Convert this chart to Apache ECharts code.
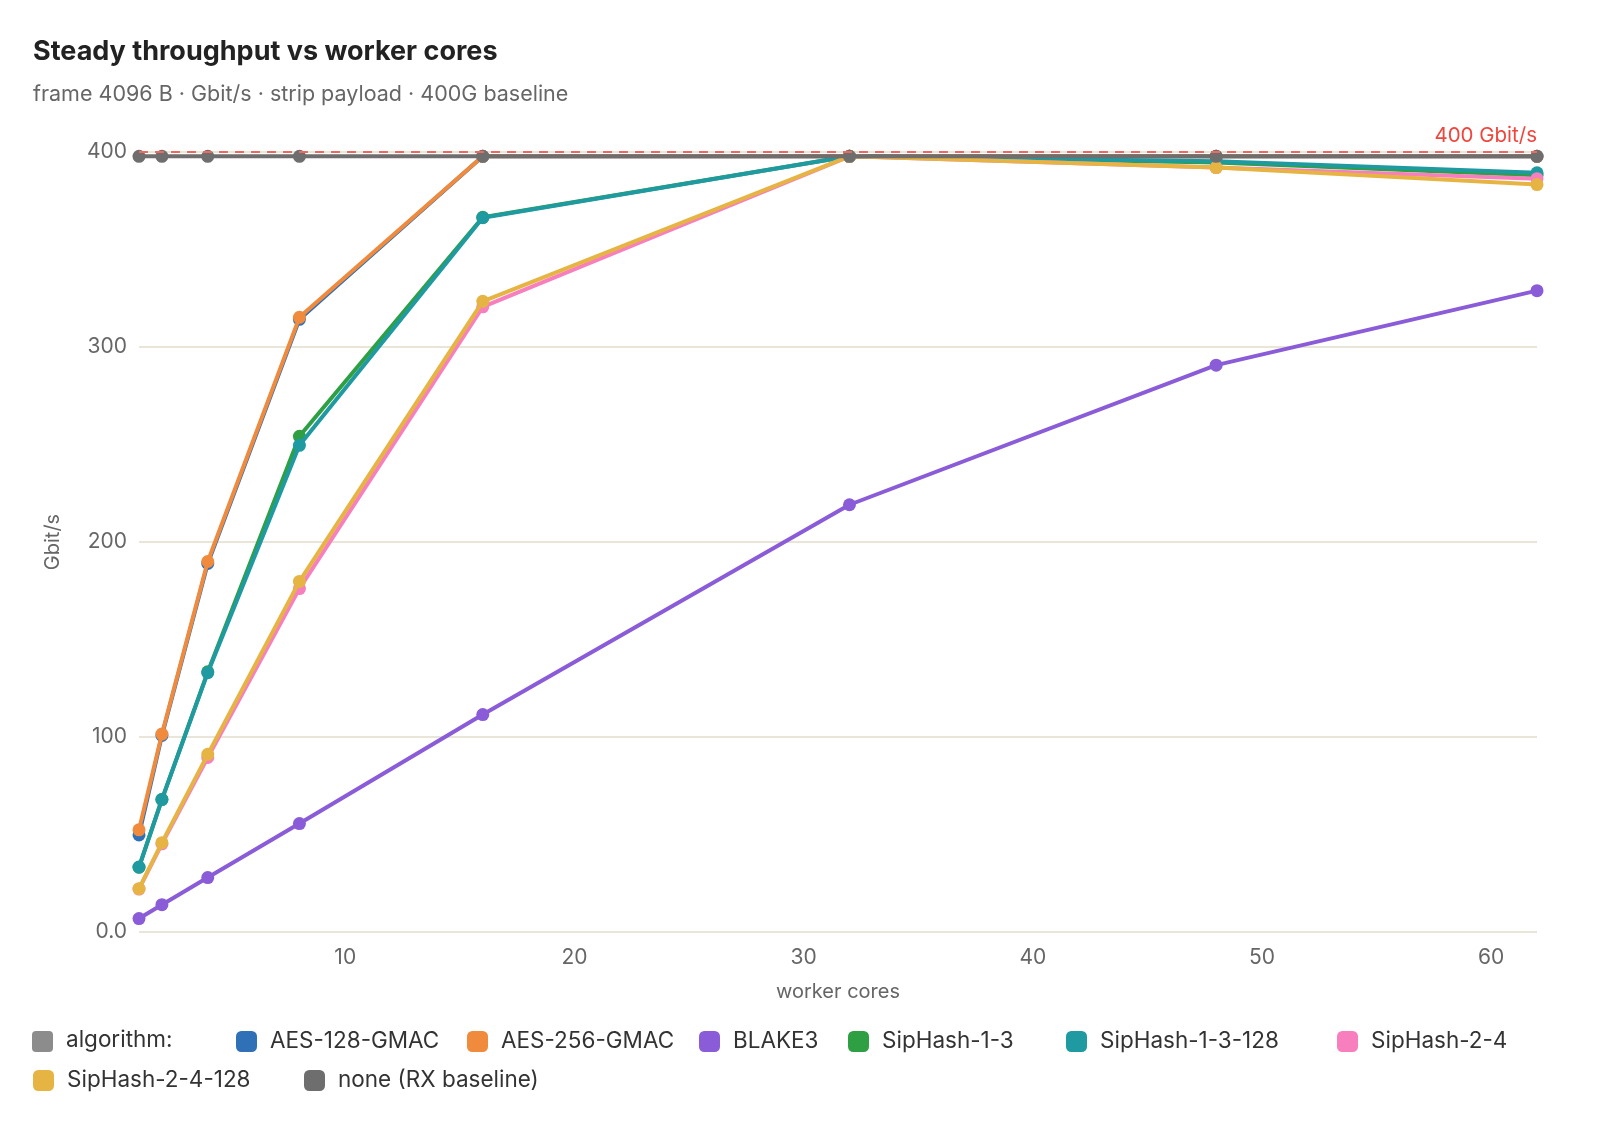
<!DOCTYPE html>
<html>
<head>
<meta charset="utf-8">
<script src="https://cdn.jsdelivr.net/npm/echarts@6/dist/echarts.min.js"></script>
<style>
  html, body { margin: 0; padding: 0; background: #fff; }
  #chart { width: 1598px; height: 1140px; }
</style>
</head>
<body>
<div id="chart"></div>
<script>
// worker cores on the x axis
const cores = [1, 2, 4, 8, 16, 32, 48, 62];
const xTicks = [10, 20, 30, 40, 50, 60];

// Gbit/s per algorithm
const aes128 = [49.8, 100.8, 189, 314.2, 397.8, 397.8, 397.8, 397.8];
const aes256 = [52.4, 101.5, 190, 315.2, 397.8, 397.8, 397.8, 397.8];
const blake3 = [6.9, 14.0, 27.9, 55.6, 111.5, 219.1, 290.7, 328.9];
const sip13 = [33.2, 68, 133.4, 254.2, 366.5, 397.8, 394.6, 388.1];
const sip13x128 = [33.3, 67.9, 133, 249.6, 366.3, 397.8, 395.3, 389.3];
const sip24 = [22, 45.2, 89.5, 176.1, 320.6, 397.8, 392, 386.3];
const sip24x128 = [22.2, 45.8, 91.1, 179.8, 323.4, 397.8, 392, 383.3];
const baseline = [397.8, 397.8, 397.8, 397.8, 397.8, 397.8, 397.8, 397.8];

const lineRate = 400;

const FONT = "Inter, 'Noto Sans', sans-serif";

const seriesDefs = [
  { name: "AES-128-GMAC", color: "#3070b7", data: aes128 },
  { name: "AES-256-GMAC", color: "#f08a3d", data: aes256 },
  { name: "BLAKE3", color: "#8b5cd8", data: blake3 },
  { name: "SipHash-1-3", color: "#2ea043", data: sip13 },
  { name: "SipHash-1-3-128", color: "#1f9aa1", data: sip13x128 },
  { name: "SipHash-2-4", color: "#f77fbe", data: sip24 },
  { name: "SipHash-2-4-128", color: "#e6b443", data: sip24x128 },
  { name: "none (RX baseline)", color: "#6e6e6e", data: baseline },
];

// legend slots (left, top) to mimic the wrapped legend rows
const legendSlots = [
  [231, 1025], [462, 1025], [694, 1025], [843, 1025], [1061, 1025], [1332, 1025],
  [28, 1064], [299, 1064],
];

const chart = echarts.init(document.getElementById("chart"));

const series = seriesDefs.map((s, i) => {
  const out = {
    name: s.name,
    type: "line",
    data: cores.map((c, j) => [c, s.data[j]]),
    symbol: "circle",
    symbolSize: 13,
    lineStyle: { width: 4, color: s.color },
    itemStyle: { color: s.color },
    emphasis: { disabled: true },
    z: 2 + i,
  };
  if (i === 0) {
    out.markLine = {
      silent: true,
      symbol: "none",
      lineStyle: { color: "#ec6a62", type: [9, 7], width: 2 },
      label: {
        position: "insideEndTop",
        formatter: "400 Gbit/s",
        color: "#f0453c",
        fontFamily: FONT,
        fontSize: 20.5,
        distance: [0, 6],
      },
      data: [{ yAxis: lineRate }],
      z: 20,
    };
  }
  return out;
});

const legends = seriesDefs.map((s, i) => ({
  left: legendSlots[i][0],
  top: legendSlots[i][1],
  data: [s.name],
  icon: "roundRect",
  itemWidth: 21,
  itemHeight: 21,
  selectedMode: false,
  textStyle: { fontFamily: FONT, fontSize: 22.5, color: "#333", padding: [0, 0, 0, 8] },
}));

chart.setOption({
  animation: false,
  backgroundColor: "#fff",
  title: [
    {
      text: "Steady throughput vs worker cores",
      left: 28,
      top: 33,
      textStyle: { fontFamily: FONT, fontSize: 27, fontWeight: "bold", color: "#222" },
    },
    {
      text: "frame 4096 B · Gbit/s · strip payload · 400G baseline",
      left: 28,
      top: 79,
      textStyle: { fontFamily: FONT, fontSize: 21.5, fontWeight: "normal", color: "#666" },
    },
  ],
  legend: legends,
  graphic: [
    {
      type: "rect",
      left: 32,
      top: 1031,
      shape: { width: 21, height: 21, r: 4 },
      style: { fill: "#8c8c8c" },
    },
    {
      type: "text",
      left: 66,
      top: 1029,
      style: { text: "algorithm:", font: "22.5px " + FONT, fill: "#333" },
    },
  ],
  grid: { left: 139, top: 152, width: 1398, height: 780 },
  xAxis: {
    type: "value",
    min: 1,
    max: 62,
    name: "worker cores",
    nameLocation: "middle",
    nameGap: 50,
    nameTextStyle: { fontFamily: FONT, fontSize: 20, color: "#666" },
    axisLine: { show: false },
    axisTick: { show: false },
    splitLine: { show: false },
    axisLabel: {
      customValues: xTicks,
      fontFamily: FONT,
      fontSize: 21,
      color: "#666",
      margin: 15,
    },
  },
  yAxis: {
    type: "value",
    min: 0,
    max: 400,
    interval: 100,
    name: "Gbit/s",
    nameLocation: "middle",
    nameGap: 76,
    nameRotate: 90,
    nameTextStyle: { fontFamily: FONT, fontSize: 20, color: "#666" },
    axisLine: { show: false },
    axisTick: { show: false },
    splitLine: { lineStyle: { color: "#e9e5d8", width: 2 } },
    axisLabel: {
      formatter: (v) => (v === 0 ? "0.0" : String(v)),
      fontFamily: FONT,
      fontSize: 21,
      color: "#666",
      margin: 12,
    },
  },
  series: series,
});
</script>
</body>
</html>
